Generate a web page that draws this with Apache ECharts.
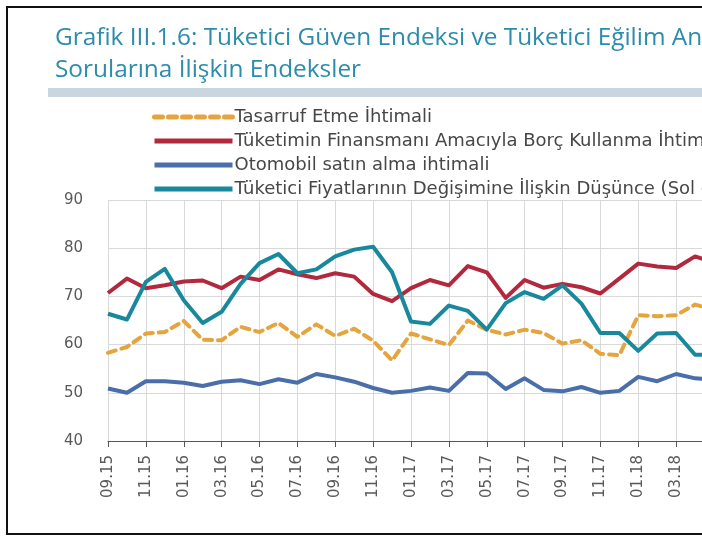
<!DOCTYPE html>
<html>
<head>
<meta charset="utf-8">
<script src="https://cdn.jsdelivr.net/npm/echarts@6/dist/echarts.min.js"></script>
<style>
  html, body { margin: 0; padding: 0; background: #fff; overflow: hidden; width: 702px; height: 538px; }
  /* the source chart is cut at the right edge, so the canvas is wider than the window */
  #chart { width: 780px; height: 538px; }
</style>
</head>
<body>
<div id="chart"></div>
<script>
// monthly, 09.15 .. 05.18
const months = [
    "09.15", "10.15", "11.15", "12.15", "01.16", "02.16", "03.16", "04.16",
    "05.16", "06.16", "07.16", "08.16", "09.16", "10.16", "11.16", "12.16",
    "01.17", "02.17", "03.17", "04.17", "05.17", "06.17", "07.17", "08.17",
    "09.17", "10.17", "11.17", "12.17", "01.18", "02.18", "03.18", "04.18", "05.18"
];

const tasarruf = [
    58.3, 59.5, 62.3, 62.6, 64.9, 61.0, 60.9, 63.7, 62.6, 64.5, 61.6, 64.2,
    61.8, 63.3, 60.8, 56.7, 62.3, 61.1, 59.9, 65.0, 63.1, 62.1, 63.1, 62.4,
    60.2, 60.9, 58.1, 57.8, 66.1, 65.9, 66.1, 68.3, 67.2
];

const borc = [
    70.7, 73.7, 71.7, 72.3, 73.1, 73.3, 71.7, 74.1, 73.4, 75.6, 74.6, 73.8,
    74.8, 74.1, 70.5, 69.0, 71.7, 73.4, 72.3, 76.3, 75.0, 69.7, 73.4, 71.8,
    72.6, 71.9, 70.6, 73.7, 76.8, 76.2, 75.9, 78.3, 77.0
];

const otomobil = [
    50.9, 50.0, 52.4, 52.4, 52.1, 51.4, 52.3, 52.6, 51.8, 52.8, 52.1, 53.9,
    53.2, 52.3, 51.0, 50.0, 50.4, 51.1, 50.4, 54.1, 54.0, 50.8, 53.0, 50.6,
    50.3, 51.2, 50.0, 50.4, 53.3, 52.4, 53.9, 53.0, 52.7
];

const fiyat = [
    66.4, 65.2, 73.0, 75.7, 69.2, 64.5, 66.8, 72.6, 76.9, 78.8, 74.8, 75.6,
    78.3, 79.7, 80.3, 75.0, 64.8, 64.3, 68.1, 67.0, 63.1, 68.6, 70.9, 69.5,
    72.3, 68.5, 62.4, 62.4, 58.7, 62.3, 62.4, 57.9, 57.9
];

const seriesNames = [
    "Tasarruf Etme İhtimali",
    "Tüketimin Finansmanı Amacıyla Borç Kullanma İhtimali",
    "Otomobil satın alma ihtimali",
    "Tüketici Fiyatlarının Değişimine İlişkin Düşünce (Sol eksen)"
];

const titleLines = [
    "Grafik III.1.6: Tüketici Güven Endeksi ve Tüketici Eğilim Anketi",
    "Sorularına İlişkin Endeksler"
];

const chart = echarts.init(document.getElementById("chart"), null, { renderer: "canvas" });

const titleColor = "#2b8cab";
const axisText = "#595959";
const gridColor = "#d9d9d9";

function lineSeries(name, data, color, dashed) {
    return {
        name: name,
        type: "line",
        data: data,
        symbol: "none",
        smooth: false,
        lineStyle: {
            color: color,
            width: 4,
            type: dashed ? [8, 6] : "solid",
            cap: dashed ? "round" : "butt",
            join: "round"
        },
        itemStyle: { color: color }
    };
}

chart.setOption({
    animation: false,
    backgroundColor: "#fff",
    graphic: [
        {
            type: "rect",
            shape: { x: 7, y: 7, width: 760, height: 527 },
            style: { fill: "none", stroke: "#111", lineWidth: 2 },
            z: 100
        },
        {
            type: "rect",
            shape: { x: 48, y: 88, width: 740, height: 9 },
            style: { fill: "#c9d5df" }
        },
        {
            type: "text",
            x: 55,
            y: 38,
            style: {
                text: titleLines[0],
                font: "24.4px 'Open Sans'",
                fill: titleColor,
                verticalAlign: "middle"
            }
        },
        {
            type: "text",
            x: 55,
            y: 70,
            style: {
                text: titleLines[1],
                font: "24.4px 'Open Sans'",
                fill: titleColor,
                verticalAlign: "middle"
            }
        }
    ],
    legend: {
        orient: "vertical",
        left: 152,
        top: 108,
        itemWidth: 78,
        itemHeight: 18,
        itemGap: 6,
        padding: 0,
        itemStyle: { opacity: 0 },
        lineStyle: { width: 5 },
        textStyle: {
            fontFamily: "DejaVu Sans",
            fontSize: 18,
            color: "#474747",
            padding: [0, 0, 0, -3]
        },
        data: seriesNames
    },
    grid: {
        left: 108,
        top: 200,
        width: 606,
        height: 241
    },
    xAxis: {
        type: "category",
        data: months,
        boundaryGap: false,
        axisLine: { lineStyle: { color: "#555", width: 1 } },
        axisTick: { interval: 1, length: 6, lineStyle: { color: "#555" } },
        axisLabel: {
            interval: 1,
            rotate: 90,
            margin: 14,
            color: axisText,
            fontFamily: "DejaVu Sans",
            fontSize: 15
        },
        splitLine: {
            show: true,
            interval: 1,
            lineStyle: { color: gridColor, width: 1 }
        }
    },
    yAxis: {
        type: "value",
        min: 40,
        max: 90,
        interval: 10,
        axisLine: { show: false },
        axisTick: { show: false },
        axisLabel: {
            margin: 25,
            color: axisText,
            fontFamily: "DejaVu Sans",
            fontSize: 15
        },
        splitLine: { lineStyle: { color: gridColor, width: 1 } }
    },
    series: [
        lineSeries(seriesNames[0], tasarruf, "#e6a43f", true),
        lineSeries(seriesNames[1], borc, "#b2283d", false),
        lineSeries(seriesNames[2], otomobil, "#4a6ea9", false),
        lineSeries(seriesNames[3], fiyat, "#18899c", false)
    ]
});
</script>
</body>
</html>
